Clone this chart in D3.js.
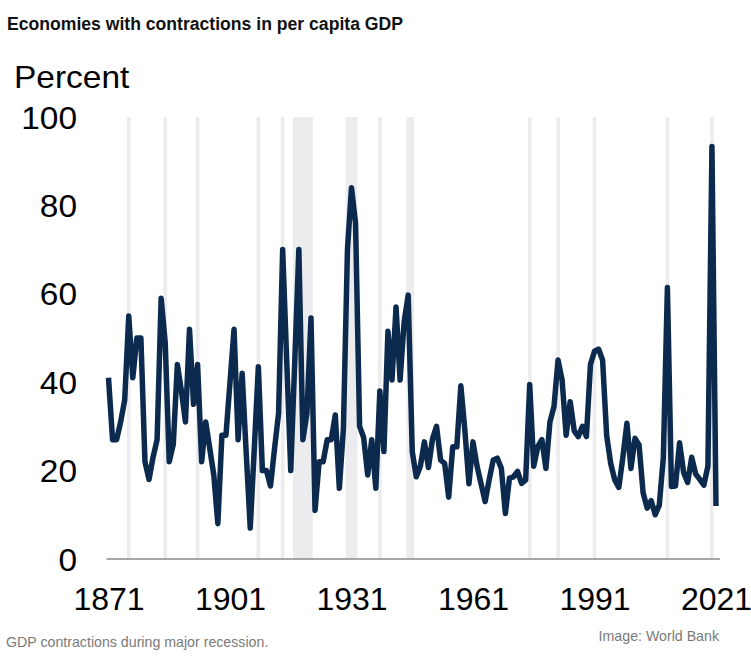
<!DOCTYPE html>
<html>
<head>
<meta charset="utf-8">
<script src="https://cdn.jsdelivr.net/npm/d3@7/dist/d3.min.js"></script>
<style>
  html, body { margin: 0; padding: 0; background: #ffffff; }
  svg { display: block; font-family: "Liberation Sans", Arial, Helvetica, sans-serif; }
</style>
</head>
<body>
<svg id="chart" width="751" height="669"></svg>
<script>
// ---- data ----
const firstYear = 1871;
const lastYear = 2021;
const values = [
  41, 27, 27, 31, 36, 55, 41, 50, 50, 22,        // 1871-1880
  18, 23, 27, 59, 49, 22, 26, 44, 38, 31,        // 1881-1890
  52, 35, 44, 22, 31, 25, 19, 8, 28, 28,         // 1891-1900
  40, 52, 27, 42, 24, 7, 25, 43.5, 20, 20,       // 1901-1910
  16.5, 25, 33, 70, 45, 20, 45, 70, 27, 33,      // 1911-1920
  54.5, 11, 22, 22, 27, 27, 32.6, 16, 29.5, 70,  // 1921-1930
  84, 76, 30, 27.5, 19, 27, 16, 38, 24.3, 51.5,  // 1931-1940
  40.5, 57, 40.5, 53.7, 59.7, 24.3, 18.6, 21, 26.5, 20.7, // 1941-1950
  27.2, 30, 22.4, 21.6, 14, 25.4, 25.4, 39.2, 29, 17,     // 1951-1960
  26.5, 21, 17, 13, 18, 22.4, 22.8, 20.5, 10.3, 18.3,     // 1961-1970
  18.6, 19.8, 17.1, 17.9, 39.5, 21, 25.4, 27, 20.5, 31,   // 1971-1980
  34.5, 45, 40.5, 28, 35.6, 29, 27.7, 30, 27.7, 44,       // 1981-1990
  47, 47.5, 45, 28, 21.6, 17.9, 16.2, 23, 30.7, 20.5,     // 1991-2000
  27.3, 25.8, 15, 11.5, 13.2, 10, 12.2, 23, 61.4, 16.4,   // 2001-2010
  16.5, 26.3, 19.6, 17.3, 23, 19.2, 18, 16.7, 21, 93.3,   // 2011-2020
  12                                                      // 2021
];
const years = d3.range(firstYear, lastYear + 1);
const recessionStart = [1876, 1885, 1893, 1908, 1914, 1917, 1930, 1938, 1945, 1975, 1982, 1991, 2009, 2020];
const recessionEnd   = [1876, 1885, 1893, 1908, 1914, 1921, 1932, 1938, 1946, 1975, 1982, 1991, 2009, 2020];
const xTicks = [1871, 1901, 1931, 1961, 1991, 2021];
const yTicks = [0, 20, 40, 60, 80, 100];

const titleText = "Economies with contractions in per capita GDP";
const unitText = "Percent";
const captionText = "GDP contractions during major recession.";
const sourceText = "Image: World Bank";

// ---- layout ----
const svg = d3.select("#chart");
const x = d3.scaleLinear().domain([firstYear, lastYear]).range([108.5, 716]);
const y = d3.scaleLinear().domain([0, 100]).range([559, 117]);

// recession bands
svg.append("g")
  .selectAll("rect")
  .data(recessionStart.map((s, i) => ({ s, e: recessionEnd[i] })))
  .join("rect")
  .attr("x", d => x(d.s - 0.45))
  .attr("width", d => x(d.e + 0.45) - x(d.s - 0.45))
  .attr("y", y(100))
  .attr("height", y(0) - y(100))
  .attr("fill", "#ececef");

// x axis
const xAxis = svg.append("g")
  .attr("transform", `translate(0,${y(0)})`)
  .call(d3.axisBottom(x).tickValues(xTicks).tickFormat(d3.format("d")).tickSize(0).tickSizeOuter(0));
xAxis.select(".domain").remove();
xAxis.selectAll("text")
  .attr("y", 51)
  .attr("dy", null)
  .attr("transform", "scale(1.05,1)")
  .attr("font-size", 30.5)
  .attr("font-family", "\"Liberation Sans\", Arial, sans-serif")
  .attr("fill", "#000");

svg.append("line")
  .attr("x1", x(firstYear) - 2)
  .attr("x2", x(lastYear) + 4)
  .attr("y1", y(0))
  .attr("y2", y(0))
  .attr("stroke", "#8a8a8a")
  .attr("stroke-width", 1.5);

// y axis
const yAxis = svg.append("g")
  .attr("transform", "translate(77,0)")
  .call(d3.axisLeft(y).tickValues(yTicks).tickSize(0));
yAxis.select(".domain").remove();
yAxis.selectAll("text")
  .attr("x", 0)
  .attr("dy", "0.36em")
  .attr("transform", "scale(1.08,1)")
  .attr("font-size", 31)
  .attr("font-family", "\"Liberation Sans\", Arial, sans-serif")
  .attr("fill", "#000");

// line
const line = d3.line()
  .x((d, i) => x(years[i]))
  .y(d => y(d));
svg.append("path")
  .datum(values)
  .attr("d", line)
  .attr("fill", "none")
  .attr("stroke", "#0b2a4e")
  .attr("stroke-width", 5.5)
  .attr("stroke-linejoin", "round")
  .attr("stroke-linecap", "butt");

// texts
svg.append("text")
  .attr("x", 7).attr("y", 29.5)
  .attr("font-size", 17.6)
  .attr("font-weight", "bold")
  .attr("fill", "#111")
  .text(titleText);

svg.append("text")
  .attr("transform", "translate(14,88) scale(1.08,1)")
  .attr("font-size", 31)
  .attr("fill", "#000")
  .text(unitText);

svg.append("text")
  .attr("x", 6).attr("y", 647)
  .attr("font-size", 14.2)
  .attr("fill", "#7a7a7a")
  .text(captionText);

svg.append("text")
  .attr("x", 719).attr("y", 641)
  .attr("text-anchor", "end")
  .attr("font-size", 14.2)
  .attr("fill", "#7a7a7a")
  .text(sourceText);
</script>
</body>
</html>
